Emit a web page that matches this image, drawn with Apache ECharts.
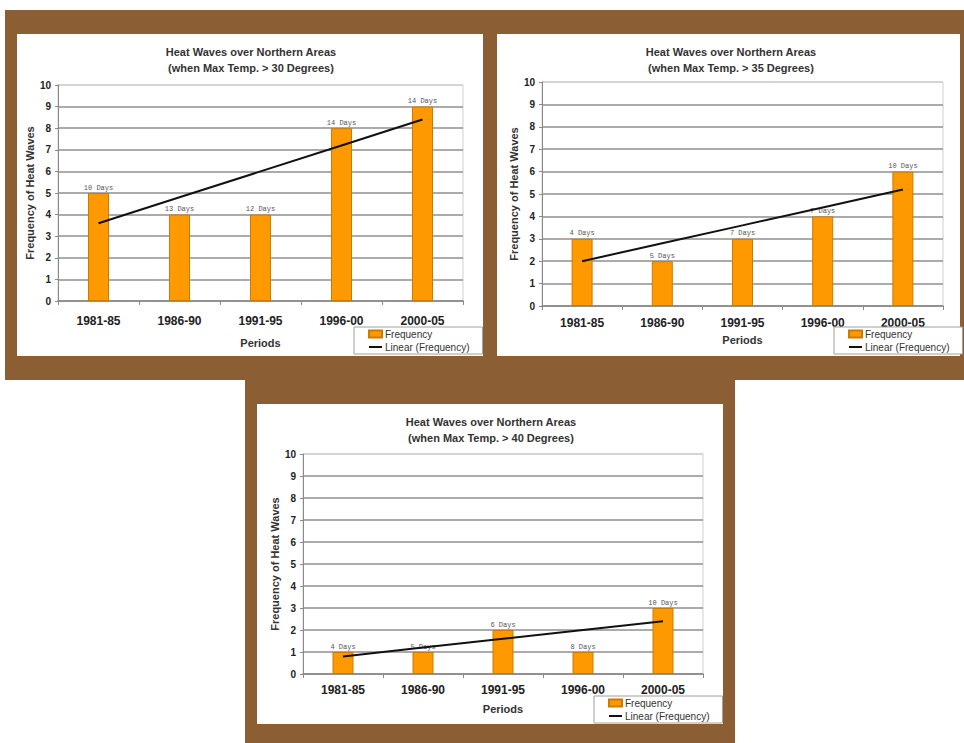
<!DOCTYPE html>
<html>
<head>
<meta charset="utf-8">
<script src="https://cdn.jsdelivr.net/npm/echarts@6/dist/echarts.min.js"></script>
<style>
html,body{margin:0;padding:0;background:#fff;}
#chart{width:964px;height:743px;}
</style>
</head>
<body>
<div id="chart"></div>
<script>
// ---- data ----
const categories = ['1981-85', '1986-90', '1991-95', '1996-00', '2000-05'];

const freq30 = [5, 4, 4, 8, 9];
const trend30 = [3.6, 4.8, 6.0, 7.2, 8.4];
const days30 = ['10 Days', '13 Days', '12 Days', '14 Days', '14 Days'];

const freq35 = [3, 2, 3, 4, 6];
const trend35 = [2.0, 2.8, 3.6, 4.4, 5.2];
const days35 = ['4 Days', '5 Days', '7 Days', '7 Days', '10 Days'];

const freq40 = [1, 1, 2, 1, 3];
const trend40 = [0.8, 1.2, 1.6, 2.0, 2.4];
const days40 = ['4 Days', '5 Days', '6 Days', '8 Days', '10 Days'];

const titleLine1 = 'Heat Waves over Northern Areas';
const titleLines2 = ['(when Max Temp. > 30 Degrees)', '(when Max Temp. > 35 Degrees)', '(when Max Temp. > 40 Degrees)'];
const yAxisName = 'Frequency of Heat Waves';
const xAxisName = 'Periods';
const seriesNames = ['Frequency', 'Linear (Frequency)'];

// ---- layout ----
const FONT = 'Liberation Sans, Arial, sans-serif';
const BROWN = '#8c5e33';
const panels = [
  { box: [17, 34, 466, 322], grid: { left: 58, top: 85, width: 405, height: 216 }, titleX: 251, titleY: 44, labelMargin: 14, yNameGap: 20, xNameGap: 36, legend: { left: 354, top: 327 },
    freq: freq30, trend: trend30, days: days30 },
  { box: [497, 34, 463, 322], grid: { left: 542, top: 82, width: 401, height: 224 }, titleX: 731, titleY: 44, labelMargin: 11, yNameGap: 22, xNameGap: 28, legend: { left: 834, top: 327 },
    freq: freq35, trend: trend35, days: days35 },
  { box: [257, 404, 466, 320], grid: { left: 303, top: 454, width: 400, height: 220 }, titleX: 491, titleY: 414, labelMargin: 10, yNameGap: 22, xNameGap: 29, legend: { left: 594, top: 696 },
    freq: freq40, trend: trend40, days: days40 }
];

const gridColors = ['#8f8f8f','#8f8f8f','#8f8f8f','#8f8f8f','#8f8f8f','#8f8f8f','#8f8f8f','#8f8f8f','#8f8f8f','#8f8f8f','#cfcfcf'];

const option = {
  animation: false,
  backgroundColor: '#fff',
  graphic: [
    { type: 'rect', z: -20, shape: { x: 5, y: 10, width: 959, height: 370 }, style: { fill: BROWN } },
    { type: 'rect', z: -20, shape: { x: 245, y: 378, width: 490, height: 365 }, style: { fill: BROWN } }
  ].concat(panels.map(p => ({
    type: 'rect', z: -10, shape: { x: p.box[0], y: p.box[1], width: p.box[2], height: p.box[3] }, style: { fill: '#fff' }
  }))),
  title: panels.map((p, i) => ({
    text: titleLine1 + '\n' + titleLines2[i],
    left: p.titleX,
    top: p.titleY,
    textAlign: 'center',
    padding: 0,
    textStyle: { fontFamily: FONT, fontSize: 11, fontWeight: 'bold', color: '#333', lineHeight: 16 }
  })),
  legend: panels.map((p, i) => ({
    orient: 'vertical',
    left: p.legend.left,
    top: p.legend.top,
    padding: [1, 13, 1, 14],
    itemGap: 1,
    itemWidth: 13,
    itemHeight: 7,
    borderColor: '#a0a0a0',
    borderWidth: 1,
    backgroundColor: '#fff',
    selectedMode: false,
    textStyle: { fontFamily: FONT, fontSize: 10, color: '#333', lineHeight: 12, padding: [0, 0, 0, -2] },
    data: [
      { name: seriesNames[0], icon: 'rect' },
      { name: seriesNames[1], itemStyle: { opacity: 0 } }
    ]
  })),
  grid: panels.map(p => Object.assign({ show: true, borderColor: '#d0d0d0', borderWidth: 1, backgroundColor: 'transparent' }, p.grid)),
  xAxis: panels.map((p, i) => ({
    type: 'category',
    gridIndex: i,
    data: categories,
    boundaryGap: true,
    name: xAxisName,
    nameLocation: 'middle',
    nameGap: p.xNameGap,
    nameTextStyle: { fontFamily: FONT, fontSize: 11, fontWeight: 'bold', color: '#333' },
    axisLine: { lineStyle: { color: '#8a8a8a', width: 1.5 } },
    axisTick: { show: true, length: 4, lineStyle: { color: '#8a8a8a' } },
    axisLabel: { fontFamily: FONT, fontSize: 12, fontWeight: 'bold', color: '#222', margin: p.labelMargin }
  })),
  yAxis: panels.map((p, i) => ({
    type: 'value',
    gridIndex: i,
    min: 0,
    max: 10,
    interval: 1,
    name: yAxisName,
    nameLocation: 'middle',
    nameRotate: 90,
    nameGap: p.yNameGap,
    nameTextStyle: { fontFamily: FONT, fontSize: 11, fontWeight: 'bold', color: '#333' },
    axisLine: { show: true, lineStyle: { color: '#8a8a8a', width: 1 } },
    axisTick: { show: true, length: 3, lineStyle: { color: '#8a8a8a' } },
    axisLabel: { fontFamily: FONT, fontSize: 10, fontWeight: 'bold', color: '#222', margin: 7 },
    splitLine: { show: true, lineStyle: { color: gridColors, width: 1.5 } }
  })),
  series: []
};

panels.forEach((p, i) => {
  option.series.push({
    name: seriesNames[0],
    type: 'bar',
    xAxisIndex: i,
    yAxisIndex: i,
    data: p.freq,
    barWidth: 21,
    z: 2,
    itemStyle: { color: '#ff9900', borderColor: '#cc7a00', borderWidth: 1 },
    label: {
      show: true,
      position: 'top',
      distance: 2,
      fontFamily: 'Liberation Mono, DejaVu Sans Mono, monospace',
      fontSize: 7,
      color: '#555',
      formatter: (params) => p.days[params.dataIndex]
    }
  });
  option.series.push({
    name: seriesNames[1],
    type: 'line',
    xAxisIndex: i,
    yAxisIndex: i,
    data: p.trend,
    symbol: 'none',
    z: 3,
    lineStyle: { color: '#111', width: 2 },
    itemStyle: { color: '#111' }
  });
});

const chart = echarts.init(document.getElementById('chart'), null, { renderer: 'svg' });
chart.setOption(option);
</script>
</body>
</html>
